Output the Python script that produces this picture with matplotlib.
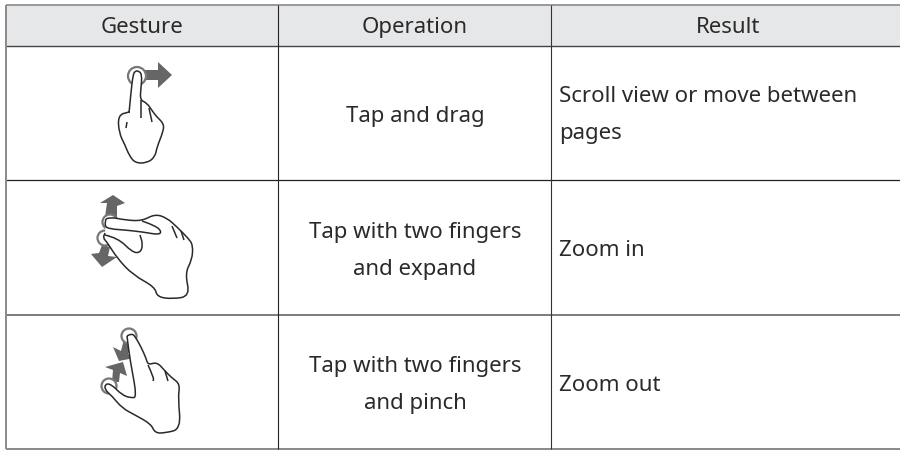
#!/usr/bin/env python3

import matplotlib
matplotlib.use('Agg')
import matplotlib.pyplot as plt
from matplotlib.path import Path
from matplotlib.patches import PathPatch, Circle, Polygon, Rectangle

HEADERS = ['Gesture', 'Operation', 'Result']
OPERATIONS = ['Tap and drag', 'Tap with two fingers\nand expand', 'Tap with two fingers\nand pinch']
RESULTS = ['Scroll view or move between\npages', 'Zoom in', 'Zoom out']

# table rules, in pixels
COL_X = [6, 278, 551, 900]
ROW_Y = [5, 46, 180, 315, 449]
HEADER_X = [142, 415, 728]
# baseline of the last line of each cell
OPERATION_Y = [122, 275, 409]
RESULT_Y = [139, 256, 391]

# hand drawings in pixels
HAND1 = [(129, 113), (131, 92), (133, 75), (135, 71), (139, 71), (142, 75), (141, 88), (140, 100), (147, 103),
         (153, 112), (157, 117), (164, 124), (163, 132), (157, 147), (155, 157), (147, 163), (135, 163),
         (129, 155), (125, 145), (119, 133), (118, 115), (129, 112)]
HAND1_FOLDS = [[(141, 100), (141, 118)], [(149, 108), (152, 122)], [(127, 122), (126, 128)]]
HAND2 = [(106, 219), (110, 217), (125, 220), (142, 221), (155, 214), (167, 218), (177, 227), (188, 238), (193, 245),
         (192, 260), (185, 273), (190, 296), (173, 299), (157, 297), (155, 287), (133, 275), (117, 258),
         (107, 242), (103, 238), (105, 233)]
HAND2_INNER = [[(106, 219), (104, 226), (110, 229), (125, 230), (143, 232), (160, 235), (161, 230), (153, 225), (142, 221)],
               [(105, 235), (118, 238), (132, 252), (140, 253), (143, 245), (140, 235)],
               [(172, 226), (177, 238)], [(181, 231), (184, 240)]]
# outline runs finger tip, knuckles, wrist, thumb, then back up the inner V
HAND3 = [(127, 336), (132, 333), (136, 338), (141, 347), (146, 358), (148, 365), (157, 362), (165, 371), (172, 378),
         (180, 384), (178, 398), (181, 429), (165, 433), (155, 433), (151, 424), (135, 415), (122, 408),
         (112, 396), (105, 390), (105, 384), (111, 384), (122, 395), (131, 398), (137, 397), (130, 360), (127, 336)]
HAND3_INNER = [[(148, 365), (154, 378), (153, 381)], [(165, 371), (168, 381)]]

TOUCHES = [(137, 76), (110, 222), (105, 238), (129, 336), (109, 386)]
TOUCH_R = [9, 7.5, 7.5, 7.5, 7.5]
ARROWS = [
    [(145, 70), (158, 70), (158, 62), (172, 75), (158, 88), (158, 80), (145, 80)],
    [(105, 217), (107, 203), (100, 203), (113, 195), (125, 203), (117, 206), (117, 217)],
    [(102, 245), (99, 253), (91, 254), (102, 267), (117, 257), (108, 256), (110, 247)],
    [(124, 339), (121, 351), (113, 347), (119, 361), (134, 358), (128, 354), (133, 343)],
    [(112, 382), (113, 370), (105, 367), (123, 362), (127, 376), (120, 373), (119, 382)],
]

INK = '#2b2a29'
GREY = '#666666'


def smooth_path(points):
    # quadratic spline through the midpoints, keeps the ends fixed
    verts = [points[0]]
    codes = [Path.MOVETO]
    for a, b in zip(points[1:-1], points[2:]):
        verts += [a, ((a[0] + b[0]) / 2, (a[1] + b[1]) / 2)]
        codes += [Path.CURVE3, Path.CURVE3]
    verts.append(points[-1])
    codes.append(Path.LINETO)
    return Path(verts, codes)


def main():
    plt.rcParams['font.family'] = ['Noto Sans', 'DejaVu Sans']
    fig = plt.figure(figsize=(9, 4.5), dpi=100)
    ax = fig.add_axes([0, 0, 1, 1])
    ax.set_xlim(0, 900)
    ax.set_ylim(450, 0)
    ax.axis('off')

    ax.add_patch(Rectangle((COL_X[0], ROW_Y[0]), COL_X[-1] - COL_X[0], ROW_Y[1] - ROW_Y[0],
                           facecolor='#e6e7e8', edgecolor='none'))

    for y, color, lw in zip(ROW_Y, ['#8a8a8a', '#444444', '#222222', '#666666', '#808080'], [1.2, 1.0, 0.9, 1.2, 1.3]):
        ax.plot([COL_X[0], COL_X[-1]], [y, y], color=color, lw=lw, solid_capstyle='butt')
    for x, color, lw in zip(COL_X[:3], ['#8a8a8a', '#222222', '#333333'], [1.4, 0.8, 0.8]):
        ax.plot([x, x], [ROW_Y[0], ROW_Y[-1]], color=color, lw=lw, solid_capstyle='butt')

    # header row
    for i, text in enumerate(HEADERS):
        ax.text(HEADER_X[i], 33, text, ha='center', va='baseline', fontsize=16, color=INK)

    # body rows
    for i in range(3):
        ax.text(HEADER_X[1], OPERATION_Y[i], OPERATIONS[i], ha='center', va='baseline',
                fontsize=16, color=INK, linespacing=2.03)
        ax.text(COL_X[2] + 8, RESULT_Y[i], RESULTS[i], ha='left', va='baseline',
                fontsize=16, color=INK, linespacing=2.03)

    # gesture drawings
    for arrow in ARROWS:
        ax.add_patch(Polygon(arrow, closed=True, facecolor=GREY, edgecolor='none'))
    for xy, r in zip(TOUCHES, TOUCH_R):
        ax.add_patch(Circle(xy, r, facecolor='white', edgecolor='#777777', lw=1.6))
    for outline in [HAND1, HAND2, HAND3]:
        ax.add_patch(PathPatch(smooth_path(outline), facecolor='white', edgecolor=INK, lw=1.1))
    for line in HAND1_FOLDS + HAND2_INNER + HAND3_INNER:
        ax.add_patch(PathPatch(smooth_path(line), facecolor='none', edgecolor=INK, lw=1.1))

    fig.savefig('out.png', dpi=100)


if __name__ == "__main__":
    main()
